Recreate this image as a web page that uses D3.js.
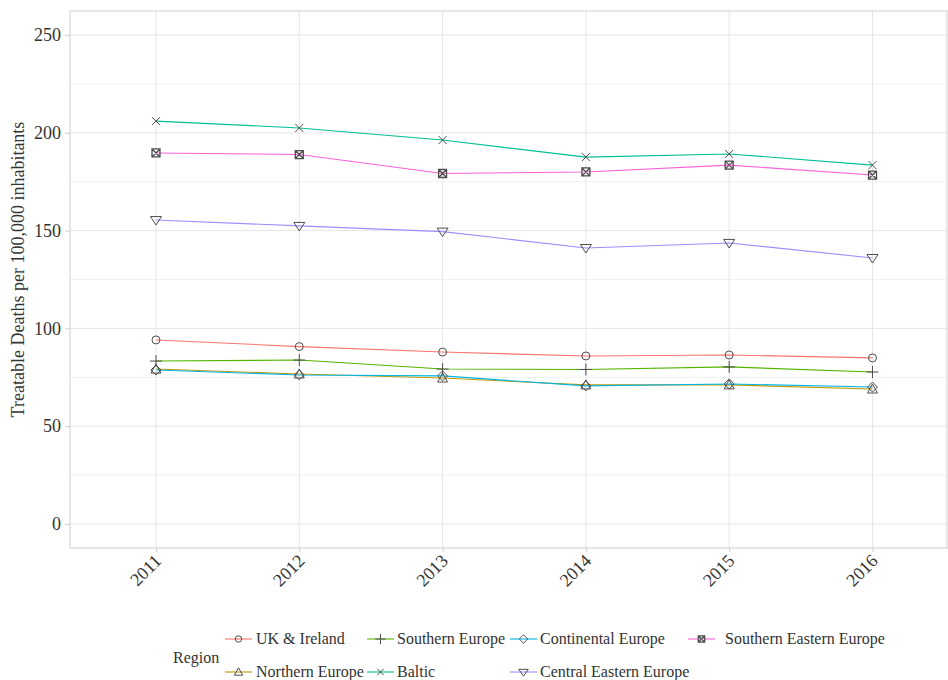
<!DOCTYPE html>
<html><head><meta charset="utf-8">
<script src="https://cdn.jsdelivr.net/npm/d3@7"></script>
<style>body{margin:0;background:#fff}svg{display:block}</style>
</head><body><svg id="c" width="948" height="680"></svg>
<script>
const years = [2011, 2012, 2013, 2014, 2015, 2016];
const regions = ["UK & Ireland", "Northern Europe", "Southern Europe", "Baltic", "Continental Europe", "Central Eastern Europe", "Southern Eastern Europe"];
const colors = ["#F8766D", "#C49A00", "#53B400", "#00C094", "#00B6EB", "#A58AFF", "#FB61D7"];
const shapes = ["circle", "triangle", "plus", "cross", "diamond", "triangleDown", "squareX"];
const ukIreland = [94.1, 90.7, 87.9, 85.9, 86.4, 84.9];
const northernEurope = [79.2, 76.7, 74.6, 71.1, 71.1, 69.0];
const southernEurope = [83.3, 83.8, 79.2, 79.0, 80.3, 77.7];
const baltic = [206.0, 202.5, 196.3, 187.6, 189.2, 183.5];
const continentalEurope = [78.7, 76.2, 75.7, 70.6, 71.6, 70.0];
const centralEasternEurope = [155.4, 152.4, 149.5, 141.1, 143.7, 136.0];
const southernEasternEurope = [189.7, 188.9, 179.2, 180.0, 183.5, 178.4];
const yTicks = [0, 50, 100, 150, 200, 250];
const yMinor = [25, 75, 125, 175, 225];

const FONT = '"Liberation Serif", "DejaVu Serif", serif';
const series = [ukIreland, northernEurope, southernEurope, baltic, continentalEurope, centralEasternEurope, southernEasternEurope];
const svg = d3.select("#c");
const L = 70, T = 11, R = 947, B = 548;
const x = d3.scaleLinear().domain([2010.4, 2016.52]).range([L, R]);
const y = d3.scaleLinear().domain([-12.3, 262.3]).range([B, T]);

const g = svg.append("g");
g.selectAll(".gmin").data(yMinor).join("line").attr("x1", L).attr("x2", R)
  .attr("y1", d => y(d)).attr("y2", d => y(d)).attr("stroke", "#f0f0f0").attr("stroke-width", 1);
g.selectAll(".gmaj").data(yTicks).join("line").attr("x1", L).attr("x2", R)
  .attr("y1", d => y(d)).attr("y2", d => y(d)).attr("stroke", "#e6e6e6").attr("stroke-width", 1);
g.selectAll(".gx").data(years).join("line").attr("y1", T).attr("y2", B)
  .attr("x1", d => x(d)).attr("x2", d => x(d)).attr("stroke", "#e6e6e6").attr("stroke-width", 1);
svg.append("rect").attr("x", L).attr("y", T).attr("width", R - L).attr("height", B - T)
  .attr("fill", "none").attr("stroke", "#cfcfcf").attr("stroke-width", 1);

const ya = svg.append("g").attr("transform", `translate(${L},0)`)
  .call(d3.axisLeft(y).tickValues(yTicks).tickSize(5).tickPadding(4));
ya.attr("font-family", FONT).attr("font-size", 18);
ya.select(".domain").remove();
ya.selectAll("line").attr("stroke", "#cfcfcf");
ya.selectAll("text").style("font-family", FONT).style("font-size", "18px").attr("fill", "#333");

const xa = svg.append("g").attr("transform", `translate(0,${B})`)
  .call(d3.axisBottom(x).tickValues(years).tickFormat(d3.format("d")).tickSize(4));
xa.attr("font-family", FONT).attr("font-size", 18);
xa.select(".domain").remove();
xa.selectAll("line").attr("stroke", "#cfcfcf");
xa.selectAll("text").style("font-family", FONT).style("font-size", "18px").attr("fill", "#333")
  .attr("text-anchor", "end").attr("dy", null).attr("y", 0)
  .attr("transform", "translate(6,14) rotate(-45)");

svg.append("text").attr("transform", `translate(24,${(T + B) / 2 - 10}) rotate(-90)`)
  .attr("text-anchor", "middle").style("font-family", FONT).style("font-size", "18px").attr("fill", "#333")
  .text("Treatable Deaths per 100,000 inhabitants");

function marker(sel, shape, s) {
  const st = "#4d4d4d";
  if (shape === "circle") sel.append("circle").attr("r", s).attr("fill", "none").attr("stroke", st);
  else if (shape === "triangle") sel.append("path").attr("d", `M0,${-s - 1}L${s + 1},${s}L${-s - 1},${s}Z`).attr("fill", "none").attr("stroke", st);
  else if (shape === "triangleDown") sel.append("path").attr("d", `M0,${s + 1}L${s + 1.5},${-s + 0.5}L${-s - 1.5},${-s + 0.5}Z`).attr("fill", "none").attr("stroke", st);
  else if (shape === "plus") sel.append("path").attr("d", `M${-s - 2},0H${s + 2}M0,${-s - 2}V${s + 2}`).attr("stroke", st);
  else if (shape === "cross") sel.append("path").attr("d", `M${-s},${-s}L${s},${s}M${-s},${s}L${s},${-s}`).attr("stroke", st);
  else if (shape === "diamond") sel.append("path").attr("d", `M0,${-s - 1}L${s + 1},0L0,${s + 1}L${-s - 1},0Z`).attr("fill", "none").attr("stroke", st);
  else if (shape === "squareX") sel.append("path").attr("d", `M${-s},${-s}H${s}V${s}H${-s}ZM${-s},${-s}L${s},${s}M${-s},${s}L${s},${-s}`).attr("fill", "none").attr("stroke", st).attr("stroke-width", 1.3);
}

const line = d3.line().x((d, i) => x(years[i])).y(d => y(d));
series.forEach((vals, k) => {
  svg.append("path").datum(vals).attr("d", line).attr("fill", "none")
    .attr("stroke", colors[k]).attr("stroke-width", 1.1);
});
series.forEach((vals, k) => {
  vals.forEach((v, i) => {
    const m = svg.append("g").attr("transform", `translate(${x(years[i])},${y(v)})`);
    marker(m, shapes[k], 4);
  });
});

svg.append("text").attr("x", 173).attr("y", 663).style("font-family", FONT).style("font-size", "16px").attr("fill", "#333").text("Region");
const colX = [225, 367, 510, 688];
const rowY = [639, 672];
const textX = [256, 397, 540, 725];
regions.forEach((r, k) => {
  const c = Math.floor(k / 2), rw = k % 2;
  const lg = svg.append("g");
  lg.append("line").attr("x1", colX[c]).attr("x2", colX[c] + 27).attr("y1", rowY[rw]).attr("y2", rowY[rw])
    .attr("stroke", colors[k]).attr("stroke-width", 1.1);
  const m = lg.append("g").attr("transform", `translate(${colX[c] + 13.5},${rowY[rw]})`);
  marker(m, shapes[k], 3.2);
  lg.append("text").attr("x", textX[c]).attr("y", rowY[rw] + 5).style("font-family", FONT).style("font-size", "16px").attr("fill", "#333").text(r);
});
</script></body></html>
